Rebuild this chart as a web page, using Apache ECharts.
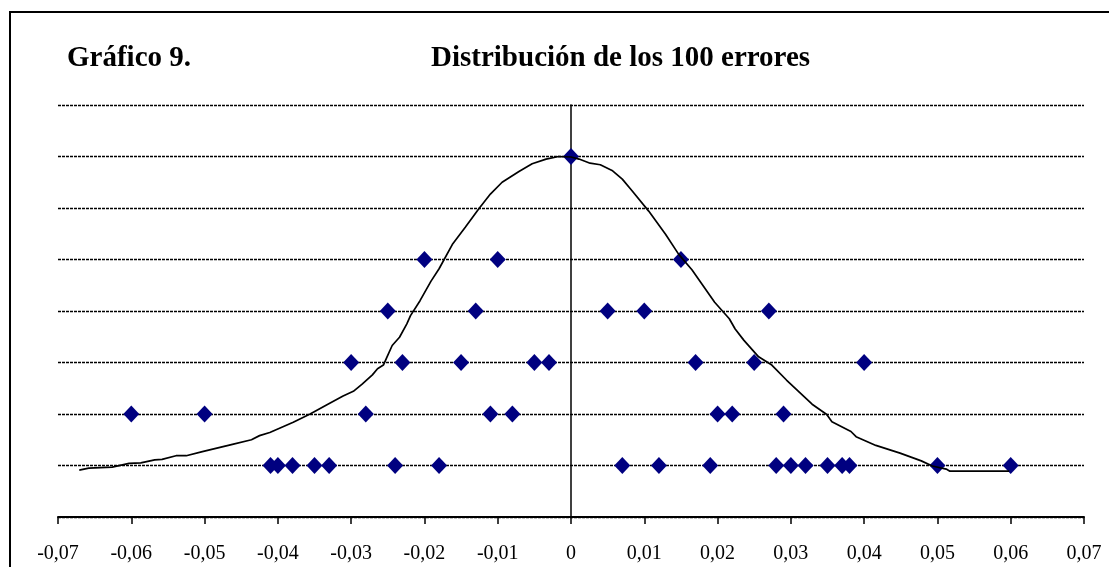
<!DOCTYPE html>
<html>
<head>
<meta charset="utf-8">
<script src="https://cdn.jsdelivr.net/npm/echarts@6/dist/echarts.min.js"></script>
<style>
html,body{margin:0;padding:0;background:#fff;}
#chart{width:1109px;height:567px;}
</style>
</head>
<body>
<div id="chart"></div>
<script>
// Tick labels of the horizontal axis
const xTickLabels = ['-0,07','-0,06','-0,05','-0,04','-0,03','-0,02','-0,01','0','0,01','0,02','0,03','0,04','0,05','0,06','0,07'];

// Error points, grouped by row (row value = height level)
const row1X = [-0.041,-0.040,-0.038,-0.035,-0.033,-0.024,-0.018,0.007,0.012,0.019,0.028,0.030,0.032,0.035,0.037,0.038,0.050,0.060];
const row2X = [-0.060,-0.050,-0.028,-0.011,-0.008,0.020,0.022,0.029];
const row3X = [-0.030,-0.023,-0.015,-0.005,-0.003,0.017,0.025,0.040];
const row4X = [-0.025,-0.013,0.005,0.010,0.027];
const row5X = [-0.020,-0.010,0.015];
const row7X = [0.000];
const rowLevels = [1,2,3,4,5,7];

// Fitted (smoothed) distribution curve
const curveX = [-0.0671,-0.0658,-0.0626,-0.0603,-0.0587,-0.0568,-0.0558,-0.0539,-0.0525,-0.0503,-0.0462,-0.0436,-0.0425,-0.0411,-0.0379,-0.0356,-0.0333,-0.0311,-0.0297,-0.0285,-0.0271,-0.0264,-0.0256,-0.0251,-0.0244,-0.0234,-0.0224,-0.0219,-0.0206,-0.0191,-0.0180,-0.0162,-0.0144,-0.0126,-0.0110,-0.0094,-0.0071,-0.0053,-0.0034,-0.0017,0.0000,0.0011,0.0026,0.0040,0.0056,0.0070,0.0083,0.0106,0.0129,0.0147,0.0165,0.0196,0.0216,0.0224,0.0236,0.0256,0.0274,0.0294,0.0329,0.0349,0.0356,0.0382,0.0389,0.0416,0.0449,0.0478,0.0493,0.0512,0.0517,0.0598];
const curveY = [0.91,0.95,0.97,1.04,1.05,1.11,1.12,1.19,1.19,1.27,1.41,1.50,1.58,1.64,1.84,2.00,2.18,2.35,2.44,2.58,2.76,2.88,2.95,3.11,3.33,3.49,3.75,3.91,4.20,4.58,4.82,5.29,5.63,5.98,6.27,6.50,6.71,6.86,6.95,7.00,6.99,6.95,6.87,6.84,6.73,6.56,6.34,5.94,5.49,5.10,4.80,4.17,3.85,3.65,3.43,3.11,2.95,2.66,2.19,1.99,1.85,1.66,1.56,1.39,1.24,1.09,0.99,0.93,0.89,0.89];

const rows = [row1X,row2X,row3X,row4X,row5X,row7X];
const pointData = [];
rows.forEach((r,i)=>r.forEach(x=>pointData.push([x,rowLevels[i]])));
const curveData = curveX.map((x,i)=>[x,curveY[i]]);

const chart = echarts.init(document.getElementById('chart'));
const serif = '"Liberation Serif","Times New Roman",serif';
chart.setOption({
  animation:false,
  backgroundColor:'#fff',
  title:[
    {text:'Gráfico 9.', left:62, top:39, textStyle:{fontFamily:serif,fontWeight:'bold',fontSize:29,color:'#000',lineHeight:30}},
    {text:'Distribución de los 100 errores', left:426, top:39, textStyle:{fontFamily:serif,fontWeight:'bold',fontSize:29,color:'#000',lineHeight:30}}
  ],
  graphic:[{type:'rect',shape:{x:10,y:12,width:1130,height:600},style:{fill:'none',stroke:'#000',lineWidth:2},silent:true}],
  grid:{left:58,right:25,top:105,bottom:50,containLabel:false},
  xAxis:{
    type:'value',min:-0.07,max:0.07,interval:0.01,
    axisLine:{show:true,onZero:false,lineStyle:{color:'#000',width:2}},
    axisTick:{show:true,length:7,lineStyle:{color:'#000',width:1.5}},
    axisLabel:{fontFamily:serif,fontSize:20,color:'#000',margin:27,
      formatter:v=>xTickLabels[Math.round((v+0.07)/0.01)]},
    splitLine:{show:false}
  },
  yAxis:{
    type:'value',min:0,max:8,interval:1,
    axisLine:{show:true,onZero:true,lineStyle:{color:'#000',width:1.5}},
    axisTick:{show:false},axisLabel:{show:false},
    splitLine:{show:true,lineStyle:{color:'#000',width:1.3,type:[3,1]}}
  },
  series:[
    {type:'scatter',data:pointData,symbol:'diamond',symbolSize:[16,17],itemStyle:{color:'#000080',opacity:1},z:2},
    {type:'line',data:curveData,showSymbol:false,symbol:'none',lineStyle:{color:'#000',width:1.7},z:3}
  ]
});
</script>
</body>
</html>
